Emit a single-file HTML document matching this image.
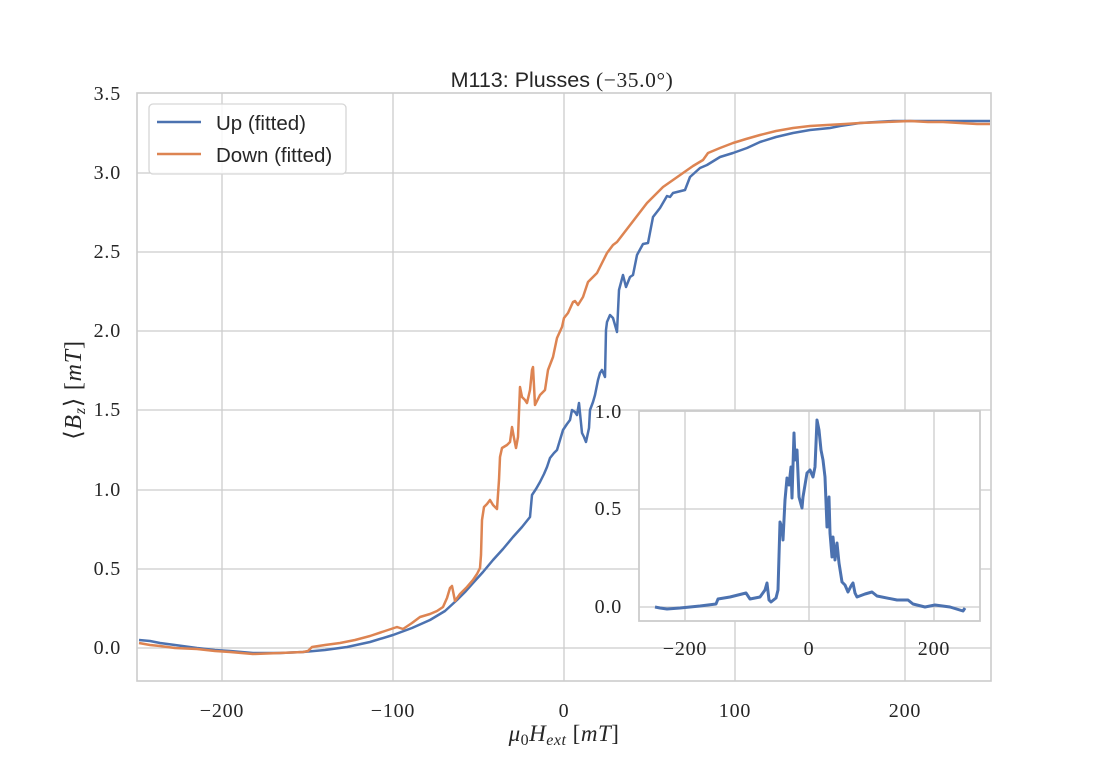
<!DOCTYPE html>
<html><head><meta charset="utf-8"><style>
html,body{margin:0;padding:0;background:#fff;}
svg{display:block;}
.t{font-family:"Liberation Serif",serif;font-size:20px;fill:#262626;}
.s{font-family:"Liberation Sans",sans-serif;font-size:20.5px;fill:#262626;}
.tk{letter-spacing:0.8px;}
</style></head><body>
<svg width="1101" height="779" viewBox="0 0 1101 779" xmlns="http://www.w3.org/2000/svg">
<rect width="1101" height="779" fill="#fff"/>
<!-- main axes grid -->
<g stroke="#cccccc" stroke-width="1.3" fill="none">
<line x1="222" y1="93" x2="222" y2="681"/><line x1="393" y1="93" x2="393" y2="681"/><line x1="564" y1="93" x2="564" y2="681"/><line x1="735" y1="93" x2="735" y2="681"/><line x1="905" y1="93" x2="905" y2="681"/>
<line x1="137" y1="648" x2="991" y2="648"/><line x1="137" y1="569" x2="991" y2="569"/><line x1="137" y1="490" x2="991" y2="490"/><line x1="137" y1="410" x2="991" y2="410"/><line x1="137" y1="331" x2="991" y2="331"/><line x1="137" y1="252" x2="991" y2="252"/><line x1="137" y1="173" x2="991" y2="173"/>
</g>
<rect x="137" y="93" width="854" height="588" fill="none" stroke="#cccccc" stroke-width="1.6"/>
<!-- main series -->
<polyline fill="none" stroke="#4c72b0" stroke-width="2.5" stroke-linejoin="round" points="139,640 150,641 160,643 175,645 197,648 215,650 230,651 253,653 280,653 303,652 325,650 347,647 370,642 393,635 412,628 430,620 445,611 457,600 465,592 473,583 483,572 493,560 503,549 513,537 522,527 530,517 532,495 536,489 540,482 544,474 547,467 550,458 554,453 557,450 560,440 563,430 567,424 570,420 572,410 575,412 577,415 579,403 582,433 584,437 586,442 589,428 590,410 593,402 595,395 598,380 600,373 602,370 605,377 606,330 607,322 610,315 613,318 617,332 619,290 623,275 626,287 630,277 633,275 637,255 643,244 648,243 653,217 660,208 667,196 670,197 673,193 685,190 690,177 700,168 707,165 720,157 733,153 747,148 760,142 776,137 793,133 810,130 830,128 840,126 860,123 893,121 920,121 943,121 965,121 990,121"/>
<polyline fill="none" stroke="#dd8452" stroke-width="2.5" stroke-linejoin="round" points="139,643 150,645 160,646 175,648 197,649 215,651 230,652 253,654 280,653 303,652 308,651 312,647 325,645 340,643 355,640 370,636 385,631 397,627 403,629 412,623 420,617 430,614 437,611 443,607 447,598 450,588 452,586 455,601 460,594 467,587 473,580 477,574 480,568 481,555 482,520 484,507 487,504 490,500 493,505 497,509 499,480 500,457 502,448 507,445 510,442 512,427 514,438 516,448 518,437 520,387 522,397 525,400 527,403 530,390 532,370 533,367 535,405 540,395 545,390 548,370 553,357 557,338 562,327 564,318 568,313 573,302 575,301 578,305 583,297 588,282 593,277 597,273 602,263 607,253 613,245 617,242 627,229 637,216 647,203 655,195 663,187 673,180 683,173 693,166 703,160 708,153 720,148 733,143 746,139 760,135 776,131 793,128 810,126 827,125 845,124 860,123 885,122 910,121 928,122 943,122 960,123 977,124 990,124"/>
<!-- main tick labels -->
<g class="t tk" text-anchor="end" dominant-baseline="central">
<text x="121" y="648">0.0</text><text x="121" y="569">0.5</text><text x="121" y="490">1.0</text><text x="121" y="410">1.5</text><text x="121" y="331">2.0</text><text x="121" y="252">2.5</text><text x="121" y="173">3.0</text><text x="121" y="94">3.5</text>
</g>
<g class="t tk" text-anchor="middle">
<text x="222" y="717">−200</text><text x="393" y="717">−100</text><text x="564" y="717">0</text><text x="735" y="717">100</text><text x="905" y="717">200</text>
</g>
<!-- axis labels -->
<text class="t" x="564" y="741" text-anchor="middle" style="font-size:23px;letter-spacing:0.5px"><tspan font-style="italic">μ</tspan><tspan font-size="16" dy="4">0</tspan><tspan font-style="italic" dy="-4">H</tspan><tspan font-style="italic" font-size="16" dy="4">ext</tspan><tspan dy="-4"> [</tspan><tspan font-style="italic">mT</tspan>]</text>
<text class="t" transform="translate(81,390) rotate(-90)" text-anchor="middle" style="font-size:24px;letter-spacing:0.8px">⟨<tspan font-style="italic">B</tspan><tspan font-style="italic" font-size="16" dy="4">z</tspan><tspan dy="-4">⟩ [</tspan><tspan font-style="italic">mT</tspan>]</text>
<!-- title -->
<text x="562" y="87" text-anchor="middle"><tspan class="s" style="font-size:21.5px">M113:  Plusses </tspan><tspan class="t" style="font-size:21.5px;letter-spacing:0.6px">(−35.0°)</tspan></text>
<!-- legend -->
<rect x="149" y="104" width="197" height="70" rx="4" ry="4" fill="#fff" fill-opacity="0.85" stroke="#d6d6d6" stroke-width="1.3"/>
<line x1="157" y1="122" x2="201" y2="122" stroke="#4c72b0" stroke-width="2.5"/>
<line x1="157" y1="154" x2="201" y2="154" stroke="#dd8452" stroke-width="2.5"/>
<text class="s" x="216" y="130">Up (fitted)</text>
<text class="s" x="216" y="162">Down (fitted)</text>
<!-- inset -->
<rect x="639" y="411" width="341" height="210" fill="#fff"/>
<g stroke="#cccccc" stroke-width="1.3" fill="none">
<line x1="685" y1="411" x2="685" y2="621"/><line x1="809" y1="411" x2="809" y2="621"/><line x1="934" y1="411" x2="934" y2="621"/>
<line x1="639" y1="607" x2="980" y2="607"/><line x1="639" y1="509" x2="980" y2="509"/>
</g>
<rect x="639" y="411" width="341" height="210" fill="none" stroke="#cccccc" stroke-width="1.8"/>
<polyline fill="none" stroke="#4c72b0" stroke-width="3" stroke-linejoin="round" points="655,607 660,608 667,609 680,608 700,606 716,604 718,599 730,597 746,593 750,599 760,597 765,590 767,583 769,600 771,602 776,598 778,590 780,522 782,528 783,540 785,500 787,478 789,485 791,467 792,498 794,433 795,460 797,450 799,497 802,508 803,497 807,473 810,470 813,477 815,467 817,420 819,430 821,450 823,460 825,477 827,527 829,497 830,533 832,557 833,537 835,560 837,543 839,563 842,582 845,585 848,592 851,586 853,583 855,593 857,597 865,594 872,592 877,596 897,600 908,600 913,604 925,607 935,605 950,607 963,611 965,608"/>
<g class="t tk" text-anchor="end" dominant-baseline="central">
<text x="622" y="607">0.0</text><text x="622" y="509">0.5</text><text x="622" y="412">1.0</text>
</g>
<g class="t tk" text-anchor="middle">
<text x="685" y="655">−200</text><text x="809" y="655">0</text><text x="934" y="655">200</text>
</g>
</svg>
</body></html>
